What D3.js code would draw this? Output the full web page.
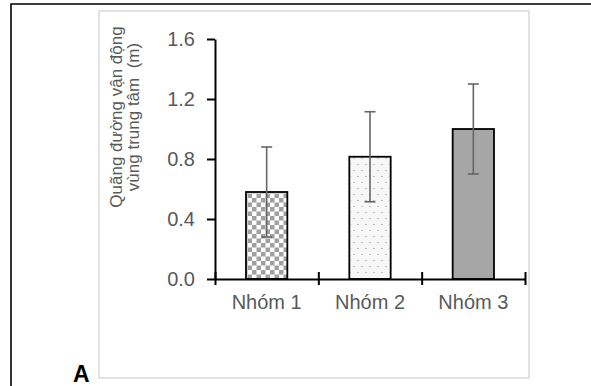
<!DOCTYPE html>
<html>
<head>
<meta charset="utf-8">
<script src="https://cdn.jsdelivr.net/npm/d3@7"></script>
<style>
  body { margin: 0; background: #fff; }
  svg { display: block; font-family: "Liberation Sans", Arial, sans-serif; }
  .axis text { fill: #595959; font-size: 20px; }
  .axis path, .axis line { stroke: #000; stroke-width: 2; }
</style>
</head>
<body>
<svg id="chart" width="591" height="386"></svg>
<script>
// data
const categories = ['Nhóm 1', 'Nhóm 2', 'Nhóm 3'];
const means = [0.58, 0.815, 1.0];
const errors = [0.3, 0.3, 0.3];
const fills = ['url(#checker)', 'url(#dots)', '#a6a6a6'];
const yTicks = [0, 0.4, 0.8, 1.2, 1.6];
const yLabelLines = ['Quãng đường vận động', 'vùng trung tâm  (m)'];

const svg = d3.select('#chart');

// outer frame (only top and left visible) and the grey chart box
svg.append('path')
  .attr('d', 'M11,386 V4 H591')
  .attr('fill', 'none')
  .attr('stroke', '#000')
  .attr('stroke-width', 1.6);
svg.append('rect')
  .attr('x', 99).attr('y', 11)
  .attr('width', 430).attr('height', 367)
  .attr('fill', '#fff')
  .attr('stroke', '#d9d9d9')
  .attr('stroke-width', 1.5);

// patterns
const defs = svg.append('defs');
const checker = defs.append('pattern')
  .attr('id', 'checker')
  .attr('patternUnits', 'userSpaceOnUse')
  .attr('width', 9).attr('height', 9);
checker.append('rect').attr('width', 9).attr('height', 9).attr('fill', '#fff');
checker.append('rect').attr('width', 4.5).attr('height', 4.5).attr('fill', '#a0a0a0');
checker.append('rect').attr('x', 4.5).attr('y', 4.5).attr('width', 4.5).attr('height', 4.5).attr('fill', '#a0a0a0');

const dots = defs.append('pattern')
  .attr('id', 'dots')
  .attr('patternUnits', 'userSpaceOnUse')
  .attr('width', 8).attr('height', 12);
dots.append('rect').attr('width', 8).attr('height', 12).attr('fill', '#f7f7f7');
dots.append('rect').attr('x', 1).attr('y', 2).attr('width', 2).attr('height', 1).attr('fill', '#c4c4c4');
dots.append('rect').attr('x', 5).attr('y', 8).attr('width', 2).attr('height', 1).attr('fill', '#c4c4c4');

const plotLeft = 215, plotRight = 525, plotTop = 39, plotBottom = 279;

const y = d3.scaleLinear().domain([0, 1.6]).range([plotBottom, plotTop]);
const x = d3.scaleBand().domain(categories).range([plotLeft, plotRight]).paddingInner(0.6).paddingOuter(0.3);
const xEdges = d3.scaleLinear().domain([0, categories.length]).range([plotLeft, plotRight]);

// bars
svg.append('g').selectAll('rect')
  .data(categories)
  .join('rect')
  .attr('x', d => x(d))
  .attr('width', x.bandwidth())
  .attr('y', (d, i) => y(means[i]))
  .attr('height', (d, i) => y(0) - y(means[i]))
  .attr('fill', (d, i) => fills[i])
  .attr('stroke', '#000')
  .attr('stroke-width', 1.8);

// error bars
const eb = svg.append('g')
  .attr('stroke', '#666')
  .attr('stroke-width', 1.6);
categories.forEach((c, i) => {
  const cx = x(c) + x.bandwidth() / 2;
  const hi = y(means[i] + errors[i]);
  const lo = y(means[i] - errors[i]);
  eb.append('line').attr('x1', cx).attr('x2', cx).attr('y1', hi).attr('y2', lo);
  eb.append('line').attr('x1', cx - 5.5).attr('x2', cx + 5.5).attr('y1', hi).attr('y2', hi);
  eb.append('line').attr('x1', cx - 5.5).attr('x2', cx + 5.5).attr('y1', lo).attr('y2', lo);
});

// y axis
svg.append('g')
  .attr('class', 'axis')
  .attr('transform', `translate(${plotLeft},0)`)
  .call(d3.axisLeft(y).tickValues(yTicks).tickFormat(d3.format('.1f'))
    .tickSize(8).tickSizeOuter(0).tickPadding(12));

// x axis line with ticks at band edges
const xAxisG = svg.append('g')
  .attr('class', 'axis')
  .attr('transform', `translate(0,${plotBottom})`)
  .call(d3.axisBottom(xEdges).tickValues(d3.range(categories.length + 1))
    .tickFormat('').tickSizeOuter(0));
xAxisG.selectAll('.tick line').attr('y1', -7).attr('y2', 6);

// category labels
svg.append('g')
  .attr('class', 'axis')
  .attr('transform', `translate(0,${plotBottom})`)
  .call(d3.axisBottom(x).tickSize(0).tickPadding(16))
  .call(g => g.select('.domain').remove());

// y axis title
const yl = svg.append('text')
  .attr('transform', 'translate(122,117) rotate(-90)')
  .attr('text-anchor', 'middle')
  .attr('fill', '#595959')
  .style('font-size', '17px')
  .style('white-space', 'pre');
yLabelLines.forEach((t, i) => {
  yl.append('tspan').attr('x', 0).attr('y', i * 17).text(t);
});

// panel letter
svg.append('text')
  .attr('x', 73).attr('y', 382)
  .attr('fill', '#000')
  .style('font-size', '23px')
  .style('font-weight', 'bold')
  .text('A');
</script>
</body>
</html>
